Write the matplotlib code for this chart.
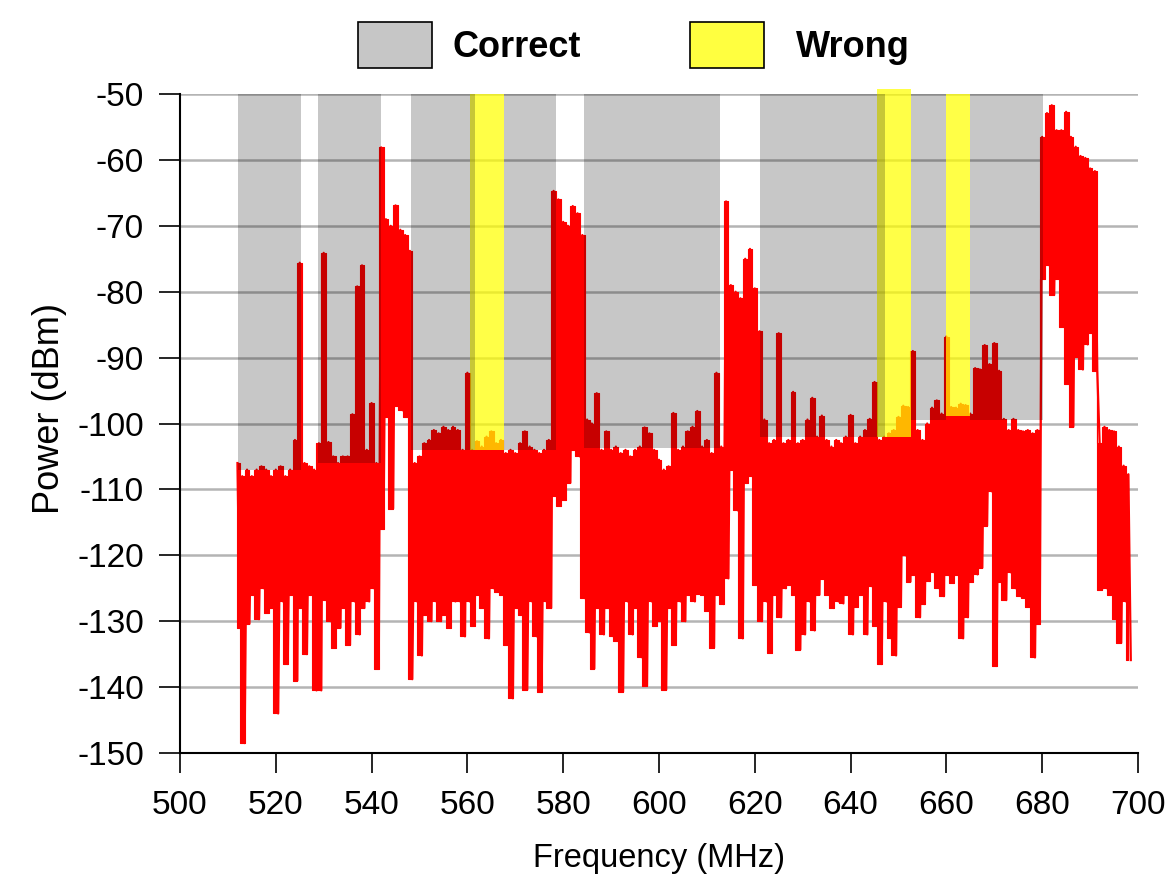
import numpy as np
import matplotlib
matplotlib.use("Agg")
import matplotlib.pyplot as plt
from matplotlib.patches import Rectangle

plt.rcParams["font.family"] = ["Liberation Sans", "DejaVu Sans"]
plt.rcParams["axes.unicode_minus"] = False

# Spectrum sweep: per-MHz peak (hi) and trough (lo) power, dBm
freq = np.arange(512, 699)
hi = [
    -106, -108, -107, -108, -107, -106.5, -107, -108, -107, -106.5,   # 512-521
    -108, -107, -102.5, -75.6, -106, -106.5, -107, -103, -74.1, -102.8,  # 522-531
    -105, -106, -105, -105, -98.6, -79.2, -76, -104, -96.9, -106,     # 532-541
    -58.1, -69, -70, -66.9, -70.6, -71.4, -73.8, -106, -105, -103,    # 542-551
    -102.5, -101, -101.5, -100.5, -101, -100.5, -101, -104, -92.3, -104,  # 552-561
    -102.7, -103.5, -102, -101.2, -103, -102.5, -104.5, -104, -104.5, -103,  # 562-571
    -101.2, -103.5, -104, -104.5, -104, -102.5, -64.7, -66, -69.4, -70,  # 572-581
    -67, -68.1, -71.4, -99.4, -100, -95.4, -104, -101.2, -104, -103.5,  # 582-591
    -104.5, -104, -105, -104, -103.5, -100.6, -101.5, -104, -105.5, -107,  # 592-601
    -106.5, -98.4, -104, -103.5, -101.2, -100.5, -98.1, -103.5, -102.5, -104.5,  # 602-611
    -92.3, -103.5, -66.3, -79, -80, -81, -75, -73.5, -79.5, -86,      # 612-621
    -99.4, -103, -102.5, -86.3, -103, -102.5, -95.2, -103, -102.5, -99.4,  # 622-631
    -96.1, -102, -98.8, -102.5, -103.5, -102.5, -103, -102, -98.7, -103,  # 632-641
    -102, -101, -99.3, -93.7, -102.5, -102, -101.5, -101, -99, -97.3,  # 642-651
    -97.5, -89, -101, -102.5, -100, -97.6, -96.5, -98.5, -86.8, -97.5,  # 652-661
    -97.6, -97, -97.2, -98.5, -91.6, -91.8, -88.1, -91, -87.8, -92,   # 662-671
    -99.3, -101, -99.3, -101, -101.2, -101, -101.5, -101, -56.5, -52.9,  # 672-681
    -51.7, -55.5, -55.5, -52.7, -56.5, -58, -59.4, -59.7, -61.3, -61.7,  # 682-691
    -103, -100.5, -101, -101.2, -103.5, -106.4, -107.7,               # 692-698
]
lo = [
    -131, -148.5, -130.4, -126, -129.7, -125, -128.7, -128, -144, -127,  # 512-521
    -136.5, -126, -139, -128, -135, -126, -140.5, -140.5, -126.8, -130,  # 522-531
    -134, -131, -128, -133.6, -127, -132, -128, -127, -125, -137.2,  # 532-541
    -116, -99, -112.9, -97.3, -98, -99, -138.8, -127, -135.2, -129,   # 542-551
    -130, -127, -130, -129, -131, -127, -127, -132.3, -127, -130.7,   # 552-561
    -126, -128, -132.6, -125, -125.5, -126, -133.6, -141.7, -128, -129,  # 562-571
    -140.4, -127, -132.3, -140.7, -127, -128, -111, -112.5, -111.6, -109,  # 572-581
    -104, -105, -126.5, -131.7, -137.2, -128, -132, -128, -132.3, -133,  # 582-591
    -140.7, -127, -132, -128, -135.5, -139.8, -127, -130.7, -130, -140.4,  # 592-601
    -128, -133.6, -127, -130, -126, -127, -125.8, -126, -128.4, -134,  # 602-611
    -126, -127.4, -123.5, -107, -113.2, -132.6, -109, -108, -124.5, -130,  # 612-621
    -127, -134.8, -126, -129.4, -125, -124.5, -126, -134.3, -132, -127,  # 622-631
    -131.4, -126, -123.6, -126, -128, -127, -127.3, -126, -132, -127.8,  # 632-641
    -126, -132, -124.7, -130.7, -136.5, -127, -132.6, -135.2, -127.8, -120,  # 642-651
    -124, -123, -129.4, -127.4, -123.9, -122.6, -125, -126.2, -123, -124.2,  # 652-661
    -123, -132.6, -129.4, -124, -122.9, -121.9, -115.5, -110.3, -136.8, -124,  # 662-671
    -126.8, -122.6, -125, -126.2, -126.5, -127.8, -135.5, -130.4, -78, -76,  # 672-681
    -80.5, -78, -85.3, -94, -100.5, -89.9, -91.8, -88, -86.3, -92.1,  # 682-691
    -125.2, -125, -126, -129.7, -133.3, -127, -135.9,                 # 692-698
]

# Channels classified correctly (grey) and wrongly (yellow): start, end, lower edge in dBm
correct_start = [512.1, 528.8, 548.2, 567.6, 584.3, 621.1, 652.6, 664.9]
correct_end = [525.3, 542.0, 561.6, 578.5, 612.7, 647.2, 659.9, 680.2]
correct_bottom = [-107, -106, -104, -104, -103.7, -102, -99.5, -99.5]
wrong_start = [560.5, 645.5, 659.9]
wrong_end = [567.6, 652.6, 664.9]
wrong_bottom = [-104, -102, -98.8]
wrong_top = [-50, -49.3, -50]
band_top = -50
legend_labels = ["Correct", "Wrong"]
legend_colors = ["#c6c6c6", "#ffff40"]

fig = plt.figure(figsize=(11.71, 8.77), dpi=100)
ax = fig.add_axes([0.1537, 0.1414, 0.8181, 0.7514])

# solid body of the sweep between trough and peak in each 1 MHz bin
ax.fill_between(freq, lo, hi, step="mid", color="#ff0000", lw=0.8,
                edgecolor="#ff0000", zorder=2)
# zig-zag trace alternating peak and trough
xs = np.empty(2 * len(freq))
ys = np.empty(2 * len(freq))
xs[0::2] = freq
xs[1::2] = freq + 0.5
ys[0::2] = hi
ys[1::2] = lo
ax.plot(xs, ys, color="#ff0000", lw=1.6, zorder=2)

for s, e, b, t in zip(wrong_start, wrong_end, wrong_bottom, wrong_top):
    ax.bar(s, t - b, width=e - s, bottom=b, align="edge", color=(1, 1, 0),
           alpha=0.72, linewidth=0, zorder=3, clip_on=False)
for s, e, b in zip(correct_start, correct_end, correct_bottom):
    ax.bar(s, band_top - b, width=e - s, bottom=b, align="edge", color="black",
           alpha=0.22, linewidth=0, zorder=4)

ax.set_xlim(500, 700)
ax.set_ylim(-150, -50)
ax.set_xticks(np.arange(500, 701, 20))
ax.set_yticks(np.arange(-150, -49, 10))
ax.yaxis.grid(True, color="#b4b4b4", lw=1.8)
ax.set_axisbelow(True)
for side in ("top", "right"):
    ax.spines[side].set_visible(False)
for side in ("left", "bottom"):
    ax.spines[side].set_linewidth(1.5)
ax.tick_params(axis="y", length=15, width=1.2, pad=11, labelsize=24)
ax.tick_params(axis="x", length=14.4, width=1.2, pad=12, labelsize=24)
ax.set_xlabel("Frequency (MHz)", fontsize=23.5, labelpad=16)
ax.set_ylabel("Power (dBm)", fontsize=26)
ax.yaxis.set_label_coords(-0.118, 0.523)

# legend row above the plot
box_x = [0.3057, 0.5892]
text_x = [0.3860, 0.6798]
for bx, tx, lab, col in zip(box_x, text_x, legend_labels, legend_colors):
    fig.add_artist(Rectangle((bx, 0.9225), 0.0632, 0.05245, transform=fig.transFigure,
                             facecolor=col, edgecolor="black", linewidth=1.2))
    fig.text(tx, 0.9350, lab, fontsize=26, fontweight="bold", va="baseline", ha="left")

fig.savefig("out.png", dpi=100)
